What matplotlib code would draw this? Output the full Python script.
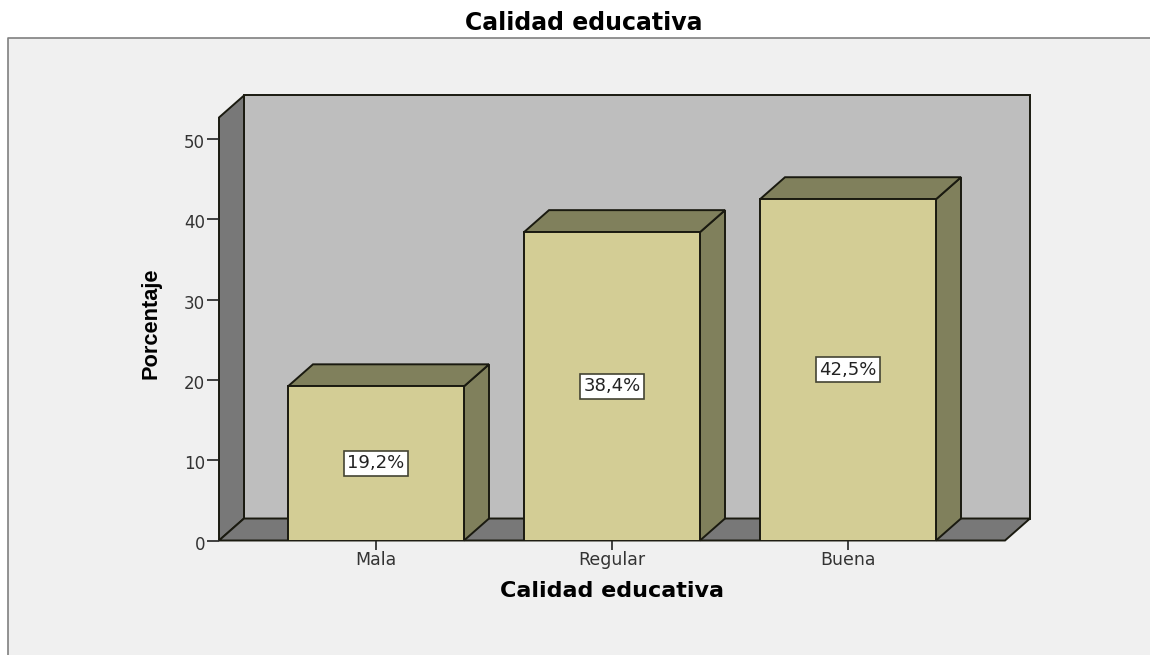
import matplotlib
matplotlib.use("Agg")
import matplotlib.pyplot as plt
from matplotlib.patches import Polygon, Rectangle
from matplotlib.transforms import ScaledTranslation

categories = ["Mala", "Regular", "Buena"]
values = [19.2, 38.4, 42.5]
labels = ["19,2%", "38,4%", "42,5%"]
yticks = [0, 10, 20, 30, 40, 50]

W, H = 1150, 655
fig = plt.figure(figsize=(W/100, H/100), dpi=100, facecolor="white")
plt.rcParams['font.family'] = ['DejaVu Sans']

bg = fig.add_axes([0, 0, 1, 1])
bg.set_xlim(0, W); bg.set_ylim(H, 0); bg.axis("off")
bg.add_patch(Rectangle((8, 38), W-8, H-38, fc="#f0f0f0", ec="none"))
bg.plot([8, 8, W], [H, 38, 38], color="#808080", lw=1.2)

L, R, T0, B0 = 219, 1005, 117.5, 540.5
ymax = (B0-T0)/8.03
ax = fig.add_axes([L/W, 1-B0/H, (R-L)/W, (B0-T0)/H])
ax.set_xlim(L, R); ax.set_ylim(0, ymax)
ax.patch.set_alpha(0)
dx, dpx = 25, 22
dy = dpx/8.03
edge = "#1a1a10"
kw = dict(ec=edge, lw=1.4, clip_on=False)
ax.add_patch(Polygon([(L+dx, dy), (R+dx, dy), (R+dx, ymax+dy), (L+dx, ymax+dy)], fc="#bebebe", **kw))
ax.add_patch(Polygon([(L, 0), (L+dx, dy), (L+dx, ymax+dy), (L, ymax)], fc="#787878", **kw))
ax.add_patch(Polygon([(L, 0), (R, 0), (R+dx, dy), (L+dx, dy)], fc="#787878", **kw))

lefts = [288, 524, 760]
bw = 176
for x0, v, lab in zip(lefts, values, labels):
    ax.add_patch(Polygon([(x0+bw, 0), (x0+bw+dx, dy), (x0+bw+dx, v+dy), (x0+bw, v)], fc="#80805c", **kw))
    ax.add_patch(Polygon([(x0, v), (x0+dx, v+dy), (x0+bw+dx, v+dy), (x0+bw, v)], fc="#80805c", **kw))
    ax.bar(x0+bw/2, v, width=bw, color="#d3cd95", edgecolor=edge, linewidth=1.4, zorder=3)
    ax.text(x0+bw/2, v/2, lab, ha="center", va="center", fontsize=13, color="#222222", zorder=4,
            bbox=dict(fc="white", ec="#444433", lw=1.2, boxstyle="square,pad=0.2"))

for s in ax.spines.values():
    s.set_visible(False)
ax.set_xticks([x0+bw/2 for x0 in lefts], categories, fontsize=12.5, color="#333333")
ax.tick_params(axis="x", length=6.5, width=1.2, color="#222222", pad=1)
ax.set_yticks(yticks, [str(t) for t in yticks], fontsize=12, color="#333333")
ax.tick_params(axis="y", length=8.6, width=1.2, color="#222222", pad=1.5)
shift = ScaledTranslation(0, -1.5/72, fig.dpi_scale_trans)
for t in ax.get_yticklabels():
    t.set_transform(t.get_transform() + shift)

fig.text(584/W, 1-23/H, "Calidad educativa", ha="center", va="center", fontsize=17, fontweight="bold")
fig.text(612/W, 1-591/H, "Calidad educativa", ha="center", va="center", fontsize=16, fontweight="bold")
fig.text(151/W, 1-323/H, "Porcentaje", ha="center", va="center", rotation=90, fontsize=15.7,
         fontweight="bold", family="Liberation Sans")

fig.savefig("out.png", dpi=100, facecolor="white")
